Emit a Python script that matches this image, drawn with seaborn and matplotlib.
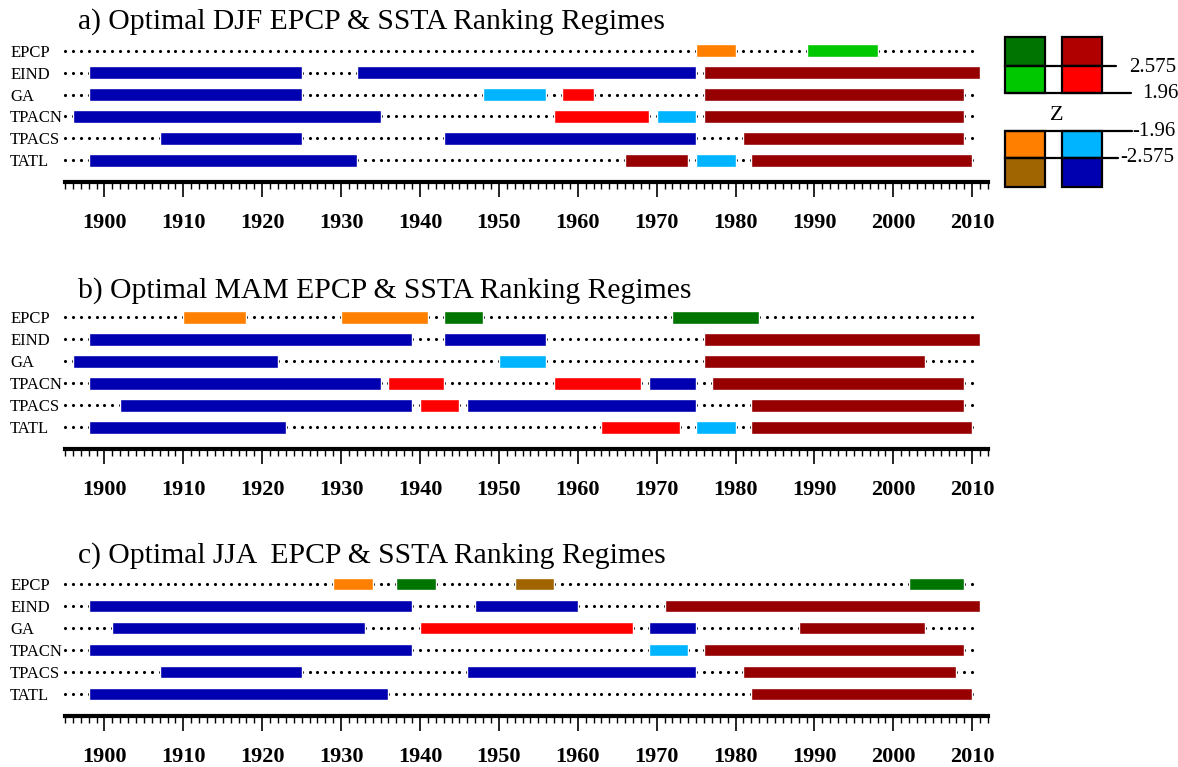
import matplotlib
matplotlib.use("Agg")
import matplotlib.pyplot as plt
from matplotlib.patches import Rectangle
from matplotlib.ticker import MultipleLocator
import pandas as pd
import seaborn as sns

# --------------------------------------------------------------------------- #
ROWS = ["EPCP", "EIND", "GA", "TPACN", "TPACS", "TATL"]
DOT_YEARS = list(range(1895, 2011))          # one dot per year behind the bars

# regimes: (row, first year, last year, Z class)
#   "++" z > 2.575   "+" 1.96..2.575   "-" -2.575..-1.96   "--" z < -2.575
DJF = [
    ("EPCP", 1975, 1980, "-"), ("EPCP", 1989, 1998, "+"),
    ("EIND", 1898, 1925, "--"), ("EIND", 1932, 1975, "--"), ("EIND", 1976, 2011, "++"),
    ("GA", 1898, 1925, "--"), ("GA", 1948, 1956, "-"), ("GA", 1958, 1962, "+"),
    ("GA", 1976, 2009, "++"),
    ("TPACN", 1896, 1935, "--"), ("TPACN", 1957, 1969, "+"), ("TPACN", 1970, 1975, "-"),
    ("TPACN", 1976, 2009, "++"),
    ("TPACS", 1907, 1925, "--"), ("TPACS", 1943, 1975, "--"), ("TPACS", 1981, 2009, "++"),
    ("TATL", 1898, 1932, "--"), ("TATL", 1966, 1974, "++"), ("TATL", 1975, 1980, "-"),
    ("TATL", 1982, 2010, "++"),
]
MAM = [
    ("EPCP", 1910, 1918, "-"), ("EPCP", 1930, 1941, "-"), ("EPCP", 1943, 1948, "++"),
    ("EPCP", 1972, 1983, "++"),
    ("EIND", 1898, 1939, "--"), ("EIND", 1943, 1956, "--"), ("EIND", 1976, 2011, "++"),
    ("GA", 1896, 1922, "--"), ("GA", 1950, 1956, "-"), ("GA", 1976, 2004, "++"),
    ("TPACN", 1898, 1935, "--"), ("TPACN", 1936, 1943, "+"), ("TPACN", 1957, 1968, "+"),
    ("TPACN", 1969, 1975, "--"), ("TPACN", 1977, 2009, "++"),
    ("TPACS", 1902, 1939, "--"), ("TPACS", 1940, 1945, "+"), ("TPACS", 1946, 1975, "--"),
    ("TPACS", 1982, 2009, "++"),
    ("TATL", 1898, 1923, "--"), ("TATL", 1963, 1973, "+"), ("TATL", 1975, 1980, "-"),
    ("TATL", 1982, 2010, "++"),
]
JJA = [
    ("EPCP", 1929, 1934, "-"), ("EPCP", 1937, 1942, "++"), ("EPCP", 1952, 1957, "--"),
    ("EPCP", 2002, 2009, "++"),
    ("EIND", 1898, 1939, "--"), ("EIND", 1947, 1960, "--"), ("EIND", 1971, 2011, "++"),
    ("GA", 1901, 1933, "--"), ("GA", 1940, 1967, "+"), ("GA", 1969, 1975, "--"),
    ("GA", 1988, 2004, "++"),
    ("TPACN", 1898, 1939, "--"), ("TPACN", 1969, 1974, "-"), ("TPACN", 1976, 2009, "++"),
    ("TPACS", 1907, 1925, "--"), ("TPACS", 1946, 1975, "--"), ("TPACS", 1981, 2008, "++"),
    ("TATL", 1898, 1936, "--"), ("TATL", 1982, 2010, "++"),
]
TITLES = [
    "a) Optimal DJF EPCP & SSTA Ranking Regimes",
    "b) Optimal MAM EPCP & SSTA Ranking Regimes",
    "c) Optimal JJA  EPCP & SSTA Ranking Regimes",
]
Z_LEVELS = ["2.575", "1.96", "-1.96", "-2.575"]

EPCP_COLORS = {"++": "#007400", "+": "#00c800", "-": "#ff7f00", "--": "#a06400"}
SSTA_COLORS = {"++": "#960000", "+": "#ff0000", "-": "#00b4ff", "--": "#0000b0"}
# --------------------------------------------------------------------------- #

W, H = 1178, 767
sns.set_theme(style="white")
plt.rcParams["font.family"] = ["Liberation Serif", "DejaVu Serif"]
plt.rcParams.update({"text.color": "black", "xtick.color": "black",
                     "ytick.color": "black", "axes.labelcolor": "black"})

fig = plt.figure(figsize=(W / 100, H / 100), dpi=100)


def px_axes(left, top, right, bottom):
    return fig.add_axes([left / W, 1 - bottom / H, (right - left) / W, (bottom - top) / H])


def draw_panel(ax, regimes):
    df = pd.DataFrame(regimes, columns=["row", "start", "end", "z"])
    df["y"] = df["row"].map(ROWS.index)
    df["color"] = [
        (EPCP_COLORS if r == "EPCP" else SSTA_COLORS)[z] for r, z in zip(df["row"], df["z"])
    ]

    dots = pd.DataFrame([(i, yr) for i in range(len(ROWS)) for yr in DOT_YEARS],
                        columns=["y", "year"])
    sns.scatterplot(data=dots, x="year", y="y", color="black", s=5, marker="o",
                    linewidth=0, ax=ax, zorder=1, clip_on=False, legend=False)
    ax.barh(df["y"], df["end"] - df["start"], left=df["start"], height=0.58,
            color=df["color"], zorder=2)

    ax.set_xlim(1895, 2012)
    ax.set_ylim(6.0, -0.6)
    ax.set_xlabel("")
    ax.set_ylabel("")
    for s in ["top", "left", "right"]:
        ax.spines[s].set_visible(False)
    ax.spines["bottom"].set_linewidth(3)
    ax.spines["bottom"].set_color("black")

    ax.set_xticks(range(1900, 2011, 10))
    ax.xaxis.set_minor_locator(MultipleLocator(1))
    ax.tick_params(axis="x", which="major", direction="out", length=11, width=1.2,
                   color="black", labelsize=16, pad=11, bottom=True)
    ax.tick_params(axis="x", which="minor", direction="out", length=5, width=1.0,
                   color="black", bottom=True)
    for lab in ax.get_xticklabels():
        lab.set_fontweight("bold")

    ax.set_yticks(range(len(ROWS)), ROWS)
    ax.tick_params(axis="y", length=0, labelsize=12, pad=39.5)
    for lab in ax.get_yticklabels():
        lab.set_horizontalalignment("left")
    ax.set_facecolor("none")


panels = [(DJF, 37.5, 182.2, 22), (MAM, 304.1, 449.3, 291), (JJA, 570.8, 716.0, 556)]
for (regimes, top, bottom, ty), title in zip(panels, TITLES):
    ax = px_axes(65, top, 988, bottom)
    draw_panel(ax, regimes)
    fig.text(78 / W, 1 - ty / H, title, fontsize=21.3, va="center", ha="left")

# ---- Z legend ------------------------------------------------------------- #
lax = fig.add_axes([0, 0, 1, 1])
lax.set_xlim(0, W)
lax.set_ylim(H, 0)
lax.axis("off")

boxes = [
    (1005, 36.7, EPCP_COLORS["++"]), (1005, 65.7, EPCP_COLORS["+"]),
    (1062, 36.7, "#b00000"), (1062, 65.7, SSTA_COLORS["+"]),
    (1005, 130.7, EPCP_COLORS["-"]), (1005, 158.3, EPCP_COLORS["--"]),
    (1062, 130.7, SSTA_COLORS["-"]), (1062, 158.3, SSTA_COLORS["--"]),
]
for x, y, c in boxes:
    h = 29 if y in (36.7, 158.3) else 27.6
    lax.add_patch(Rectangle((x, y), 40, h, facecolor=c, edgecolor="black", lw=1.6))

lines = [(65.7, 1116), (93.3, 1131), (130.7, 1132), (158.3, 1118)]
for (y, xend), lab, tx, ty in zip(lines, Z_LEVELS,
                                  [1129, 1142, 1132, 1120], [68, 93, 131, 157]):
    lax.plot([1005, xend], [y, y], color="black", lw=1.6)
    lax.text(tx, ty, lab, fontsize=15, va="center", ha="left")
lax.text(1057, 115, "Z", fontsize=16, va="center", ha="center")

fig.savefig("out.png", dpi=100)
